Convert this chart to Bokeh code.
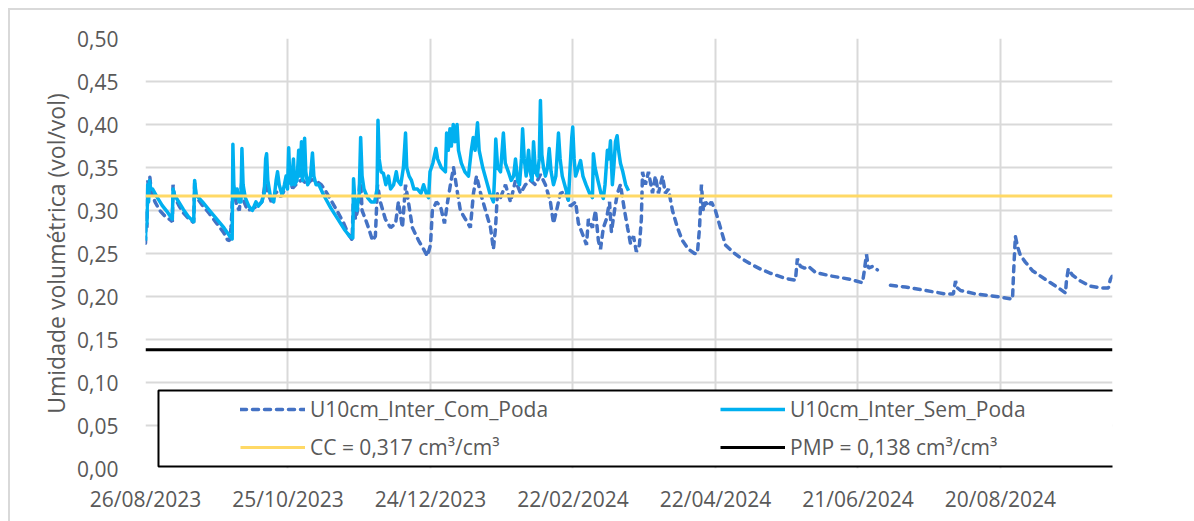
import math
import pandas as pd
from bokeh.plotting import figure
from bokeh.models import (FixedTicker, DatetimeTickFormatter, CustomJSTickFormatter,
                          Legend, LegendItem, BoxAnnotation, Range1d, ColumnDataSource)
from bokeh.embed import file_html
from bokeh.resources import INLINE

# ---------------- data ----------------
start_date = "2023-08-26"
end_offset_days = 407.2
x_tick_labels = ["26/08/2023", "25/10/2023", "24/12/2023", "22/02/2024",
                 "22/04/2024", "21/06/2024", "20/08/2024"]
y_ticks = [0.0, 0.05, 0.10, 0.15, 0.20, 0.25, 0.30, 0.35, 0.40, 0.45, 0.50]

cc_value = 0.317
pmp_value = 0.138

# U10cm_Inter_Sem_Poda : (days since 26/08/2023, value)
sem_day = [0.0, 0.3, 0.6, 0.9, 1.3, 1.7, 2.2, 3.0, 5.0, 7.0, 9.0, 10.5, 11.3, 11.6, 12.2, 14.0, 16.0, 18.0,
           20.3, 20.7, 21.3, 24.0, 27.0, 30.0, 33.0, 35.5, 36.5, 36.8, 37.2, 37.8, 38.6, 39.4, 40.2, 40.6,
           41.1, 42.0, 43.5, 45.0, 46.5, 47.5, 49.0, 50.0, 50.6, 51.0, 51.5, 52.5, 54.0, 55.0, 55.6, 56.3,
           57.5, 58.5, 59.2, 59.8, 60.3, 60.8, 61.5, 62.3, 62.8, 63.8, 64.5, 65.0, 65.7, 66.2, 67.0, 67.5,
           68.3, 69.5, 70.3, 70.9, 71.8, 73.0, 75.0, 78.0, 81.0, 84.0, 86.0, 87.3, 87.6, 88.2, 89.0, 90.0,
           90.6, 91.2, 92.0, 93.5, 95.0, 96.5, 97.5, 97.9, 98.4, 99.2, 100.2, 101.2, 102.3, 103.2, 104.5,
           105.6, 106.2, 107.5, 108.6, 109.5, 110.0, 111.0, 112.0, 113.0, 114.5, 116.0, 117.1, 118.2,
           119.2, 119.8, 121.0, 122.3, 123.0, 124.5, 126.3, 126.8, 127.5, 128.2, 128.8, 129.6, 130.3,
           131.2, 131.8, 133.0, 134.5, 136.0, 137.2, 138.0, 138.8, 139.8, 140.5, 142.0, 143.5, 145.0,
           146.5, 147.0, 147.5, 148.3, 149.5, 150.7, 151.5, 152.8, 154.0, 155.0, 155.8, 156.7, 157.5,
           158.3, 158.8, 159.5, 160.3, 161.3, 162.0, 162.8, 163.4, 164.2, 165.0, 165.8, 166.3, 166.9,
           167.6, 168.4, 169.3, 170.0, 170.8, 171.8, 172.8, 173.9, 174.6, 175.5, 176.5, 177.5, 178.1,
           178.8, 179.5, 179.9, 180.5, 181.1, 182.3, 183.2, 184.2, 185.5, 187.0, 188.2, 188.6, 189.3,
           190.5, 191.8, 192.8, 193.5, 194.5, 195.2, 195.8, 196.6, 197.2, 197.9, 198.6, 199.2, 200.0,
           201.0, 202.2, 203.4]
sem_val = [0.265, 0.30, 0.285, 0.33, 0.31, 0.335, 0.325, 0.325, 0.315, 0.306, 0.299, 0.293, 0.29, 0.325,
           0.318, 0.31, 0.301, 0.293, 0.287, 0.335, 0.318, 0.31, 0.30, 0.29, 0.28, 0.27, 0.267, 0.377,
           0.33, 0.315, 0.325, 0.31, 0.31, 0.372, 0.33, 0.315, 0.305, 0.30, 0.31, 0.305, 0.31, 0.32, 0.36,
           0.366, 0.335, 0.318, 0.31, 0.335, 0.345, 0.33, 0.318, 0.33, 0.34, 0.325, 0.373, 0.335, 0.33,
           0.36, 0.33, 0.335, 0.37, 0.34, 0.38, 0.335, 0.384, 0.345, 0.33, 0.34, 0.367, 0.34, 0.33, 0.33,
           0.318, 0.303, 0.29, 0.277, 0.27, 0.268, 0.337, 0.31, 0.30, 0.32, 0.385, 0.34, 0.325, 0.315,
           0.31, 0.31, 0.325, 0.405, 0.36, 0.345, 0.343, 0.33, 0.34, 0.325, 0.33, 0.345, 0.335, 0.33,
           0.35, 0.39, 0.35, 0.34, 0.335, 0.325, 0.325, 0.32, 0.33, 0.32, 0.315, 0.345, 0.355, 0.372,
           0.36, 0.35, 0.345, 0.39, 0.37, 0.395, 0.375, 0.40, 0.38, 0.40, 0.37, 0.355, 0.345, 0.34, 0.37,
           0.385, 0.37, 0.402, 0.37, 0.35, 0.335, 0.32, 0.31, 0.34, 0.383, 0.35, 0.345, 0.39, 0.355,
           0.345, 0.335, 0.34, 0.36, 0.335, 0.33, 0.36, 0.395, 0.36, 0.34, 0.37, 0.345, 0.335, 0.38,
           0.345, 0.34, 0.36, 0.428, 0.365, 0.35, 0.34, 0.35, 0.372, 0.345, 0.33, 0.34, 0.39, 0.36, 0.34,
           0.33, 0.32, 0.312, 0.35, 0.385, 0.397, 0.36, 0.34, 0.35, 0.358, 0.34, 0.33, 0.32, 0.315,
           0.366, 0.35, 0.335, 0.32, 0.314, 0.33, 0.37, 0.36, 0.381, 0.33, 0.35, 0.38, 0.387, 0.37,
           0.355, 0.345, 0.33, 0.323]

# U10cm_Inter_Com_Poda : (days since 26/08/2023, value); nan = missing record
nan = float("nan")
com_day = [0.0, 0.3, 0.6, 1.0, 1.4, 1.8, 2.4, 4.0, 6.0, 8.0, 10.5, 11.3, 11.6, 12.2, 14.0, 16.0, 18.0,
           20.3, 20.7, 21.3, 24.0, 27.0, 30.0, 33.0, 34.5, 35.5, 36.0, 36.4, 36.8, 37.5, 38.5, 39.5,
           40.5, 41.5, 43.0, 45.0, 47.0, 49.0, 50.5, 51.5, 53.0, 55.0, 57.0, 59.0, 60.5, 62.0, 64.0,
           66.0, 68.0, 70.0, 72.0, 74.0, 76.0, 78.5, 81.0, 83.5, 85.5, 87.0, 87.6, 88.4, 89.3, 90.5,
           91.2, 92.6, 93.9, 95.6, 96.8, 97.7, 98.9, 101.0, 103.2, 105.3, 106.5, 108.2, 109.5, 110.7,
           112.4, 115.0, 117.1, 118.7, 120.0, 120.8, 122.5, 124.2, 125.9, 127.2, 128.4, 129.7, 131.4,
           132.6, 134.7, 136.8, 138.1, 139.4, 141.1, 143.2, 145.3, 146.5, 147.4, 148.2, 149.5, 151.6,
           153.7, 155.8, 157.9, 160.0, 162.1, 164.2, 166.3, 168.4, 170.5, 171.8, 173.1, 174.7, 176.8,
           178.9, 181.1, 182.3, 184.4, 185.7, 186.5, 188.2, 189.5, 190.7, 191.6, 192.8, 194.1, 195.4,
           196.2, 197.5, 198.7, 200.0, 201.7, 203.0, 204.2, 205.5, 206.7, 208.0, 208.8, 209.3, 210.5,
           211.8, 213.5, 214.7, 216.0, 217.7, 218.9, 220.2, 221.9, 224.0, 226.1, 228.6, 231.2, 232.4,
           233.3, 234.1, 234.9, 235.8, 237.1, 238.3, 240.0, 242.1, 244.2, 247.2, 250.5, 254.7, 258.9,
           263.2, 269.5, 273.7, 274.1, 274.5, 275.8, 277.5, 279.2, 282.1, 288.4, 296.8, 301.9, 302.7,
           303.6, 304.4, 306.1, 308.2, 311.0, 313.7, 320.0, 328.4, 336.8, 340.2, 341.1, 341.9, 343.2,
           349.5, 355.8, 365.1, 365.5, 366.3, 367.2, 368.4, 370.5, 373.5, 378.9, 384.4, 387.4, 387.8,
           388.6, 390.3, 393.7, 397.9, 402.1, 405.5, 406.3, 407.2]
com_val = [0.262, 0.30, 0.28, 0.335, 0.318, 0.34, 0.322, 0.31, 0.30, 0.294, 0.289, 0.287, 0.33, 0.316,
           0.306, 0.297, 0.291, 0.286, 0.332, 0.316, 0.306, 0.296, 0.285, 0.274, 0.266, 0.265, 0.28, 0.30,
           0.33, 0.318, 0.305, 0.30, 0.332, 0.31, 0.30, 0.302, 0.305, 0.31, 0.332, 0.32, 0.31, 0.322,
           0.316, 0.326, 0.334, 0.326, 0.332, 0.336, 0.33, 0.336, 0.334, 0.33, 0.322, 0.31, 0.298, 0.285,
           0.272, 0.266, 0.32, 0.29, 0.30, 0.34, 0.30, 0.29, 0.28, 0.265, 0.27, 0.33, 0.31, 0.29, 0.28,
           0.285, 0.31, 0.28, 0.33, 0.31, 0.28, 0.265, 0.255, 0.247, 0.26, 0.30, 0.31, 0.305, 0.285, 0.31,
           0.33, 0.35, 0.32, 0.30, 0.29, 0.28, 0.32, 0.34, 0.32, 0.30, 0.28, 0.255, 0.28, 0.32, 0.315,
           0.33, 0.31, 0.335, 0.32, 0.33, 0.335, 0.33, 0.342, 0.33, 0.31, 0.285, 0.30, 0.32, 0.322, 0.305,
           0.31, 0.285, 0.27, 0.26, 0.29, 0.28, 0.30, 0.265, 0.255, 0.28, 0.29, 0.31, 0.275, 0.30, 0.32,
           0.33, 0.30, 0.28, 0.262, 0.27, 0.252, 0.26, 0.29, 0.345, 0.33, 0.345, 0.32, 0.34, 0.32, 0.34,
           0.32, 0.325, 0.30, 0.28, 0.265, 0.255, 0.25, 0.25, 0.28, 0.33, 0.30, 0.31, 0.305, 0.31, 0.30,
           0.28, 0.26, 0.252, 0.245, 0.238, 0.232, 0.227, 0.221, 0.219, 0.232, 0.244, 0.235, 0.233,
           0.235, 0.228, 0.224, 0.22, 0.216, 0.23, 0.249, 0.233, 0.235, 0.231, nan, 0.213, 0.211, 0.207,
           0.203, 0.203, 0.218, 0.21, 0.207, 0.203, 0.201, 0.197, 0.225, 0.27, 0.258, 0.248, 0.24, 0.23,
           0.22, 0.21, 0.204, 0.218, 0.232, 0.225, 0.218, 0.212, 0.21, 0.21, 0.22, 0.224]

labels = ["U10cm_Inter_Com_Poda", "U10cm_Inter_Sem_Poda",
          "CC = 0,317 cm³/cm³", "PMP = 0,138 cm³/cm³"]

# ---------------- chart ----------------
t0 = pd.Timestamp(start_date)
def to_dt(days):
    return [t0 + pd.Timedelta(days=d) for d in days]

x_start = t0
x_end = t0 + pd.Timedelta(days=end_offset_days)
tick_ms = [pd.Timestamp(pd.to_datetime(s, format="%d/%m/%Y")).value / 1e6 for s in x_tick_labels]

FONT = "Open Sans"
TXT = "#595959"
GRID = "#D9D9D9"

p = figure(x_axis_type="datetime", frame_width=967, frame_height=430,
           min_border_left=135, min_border_right=82, min_border_top=28, min_border_bottom=53,
           x_range=Range1d(x_start, x_end), y_range=Range1d(0, 0.5),
           output_backend="svg", toolbar_location=None)
p.styles = {"border-top": "2px solid #D9D9D9", "border-left": "2px solid #D9D9D9",
            "margin-top": "8px", "margin-left": "8px"}
p.outline_line_color = None
p.background_fill_color = "white"
p.border_fill_color = "white"

p.xaxis.ticker = FixedTicker(ticks=tick_ms)
fmt = "%d/%m/%Y"
p.xaxis.formatter = DatetimeTickFormatter(microseconds=fmt, milliseconds=fmt, seconds=fmt,
                                          minsec=fmt, minutes=fmt, hourmin=fmt, hours=fmt,
                                          days=fmt, months=fmt, years=fmt)
p.yaxis.ticker = FixedTicker(ticks=y_ticks)
p.yaxis.formatter = CustomJSTickFormatter(code="return tick.toFixed(2).replace('.', ',');")

for ax in (p.xaxis, p.yaxis):
    ax.axis_line_color = None
    ax.major_tick_line_color = None
    ax.minor_tick_line_color = None
    ax.major_label_text_font = FONT
    ax.major_label_text_font_size = "21px"
    ax.major_label_text_color = TXT
p.xaxis.major_label_standoff = 10
p.yaxis.major_label_standoff = 21
p.yaxis.axis_label = "Umidade volumétrica (vol/vol)"
p.yaxis.axis_label_text_font = FONT
p.yaxis.axis_label_text_font_size = "23px"
p.yaxis.axis_label_text_font_style = "normal"
p.yaxis.axis_label_text_color = TXT
p.yaxis.axis_label_standoff = 2

p.xgrid.grid_line_color = GRID
p.ygrid.grid_line_color = GRID
p.xgrid.grid_line_width = 2
p.ygrid.grid_line_width = 2

src_com = ColumnDataSource(dict(x=to_dt(com_day), y=com_val))
src_sem = ColumnDataSource(dict(x=to_dt(sem_day), y=sem_val))

r_com = p.line("x", "y", source=src_com, line_color="#4472C4", line_width=3.5,
               line_dash="6 6", line_cap="round")
r_sem = p.line("x", "y", source=src_sem, line_color="#00B0F0", line_width=3.5, line_join="round")
r_cc = p.line([x_start, x_end], [cc_value, cc_value], line_color="#FFD966", line_width=3)
r_pmp = p.line([x_start, x_end], [pmp_value, pmp_value], line_color="black", line_width=3)

# legend box
box = BoxAnnotation(left=t0 + pd.Timedelta(days=5.47), right=t0 + pd.Timedelta(days=408.0),
                    bottom=0.0023, top=0.0907, fill_color="white", fill_alpha=1.0,
                    line_color="black", line_width=2, line_alpha=1.0)
p.add_layout(box)

legend = Legend(items=[LegendItem(label=labels[0], renderers=[r_com]),
                       LegendItem(label=labels[1], renderers=[r_sem]),
                       LegendItem(label=labels[2], renderers=[r_cc]),
                       LegendItem(label=labels[3], renderers=[r_pmp])],
                location=(95, 7), orientation="horizontal", ncols=2,
                glyph_width=65, glyph_height=28, label_height=28, label_width=400,
                label_standoff=5, spacing=10, padding=0, margin=0,
                border_line_alpha=0, background_fill_alpha=0,
                label_text_font=FONT, label_text_font_size="21px", label_text_color=TXT)
p.add_layout(legend)

open("out.html", "w").write(file_html(p, INLINE))
